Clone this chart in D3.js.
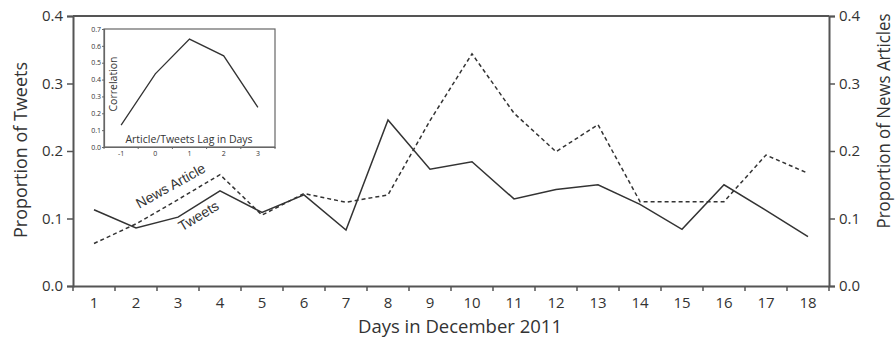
<!DOCTYPE html>
<html>
<head>
<meta charset="utf-8">
<script src="https://cdn.jsdelivr.net/npm/d3@7.9.0/dist/d3.min.js"></script>
<style>
  body { margin: 0; background: #fff; }
  svg text { font-family: "Open Sans", "DejaVu Sans", sans-serif; fill: #333; }
</style>
</head>
<body>
<div id="chart"></div>
<script>
const days = d3.range(1, 19);
const tweets = [0.113, 0.086, 0.102, 0.141, 0.109, 0.135, 0.083, 0.246, 0.173, 0.184,
                0.129, 0.143, 0.150, 0.121, 0.084, 0.150, 0.112, 0.073];
const news = [0.063, 0.092, 0.128, 0.165, 0.105, 0.137, 0.124, 0.135, 0.245, 0.344,
              0.256, 0.199, 0.239, 0.125, 0.125, 0.125, 0.194, 0.167];
const yTicks = [0, 0.1, 0.2, 0.3, 0.4];

const lags = [-1, 0, 1, 2, 3];
const correlation = [0.13, 0.434, 0.64, 0.541, 0.235];
const corrTicks = [0, 0.1, 0.2, 0.3, 0.4, 0.5, 0.6, 0.7];

const width = 896;
const height = 339;
const margin = { top: 16, right: 67, bottom: 53, left: 73 };
const axisColor = "#555";
const lineColor = "#333";

const svg = d3.select("#chart")
  .append("svg")
  .attr("width", width)
  .attr("height", height);

const x = d3.scaleBand()
  .domain(days)
  .range([margin.left, width - margin.right])
  .padding(0);

const y = d3.scaleLinear()
  .domain([0, 0.4])
  .range([height - margin.bottom, margin.top]);

const fmt = d3.format(".1f");

// left axis
const yLeft = svg.append("g")
  .attr("transform", `translate(${margin.left},0)`)
  .call(d3.axisLeft(y).tickValues(yTicks).tickFormat(fmt).tickSize(6).tickPadding(4));

// right axis
const yRight = svg.append("g")
  .attr("transform", `translate(${width - margin.right},0)`)
  .call(d3.axisRight(y).tickValues(yTicks).tickFormat(fmt).tickSize(6).tickPadding(4));

// bottom axis: labels at band centres, ticks at band edges
const xAxis = svg.append("g")
  .attr("transform", `translate(0,${y(0)})`)
  .call(d3.axisBottom(x).tickSize(0).tickPadding(11));

xAxis.selectAll(".edge")
  .data(days.map(d => x(d)).concat([x(days[days.length - 1]) + x.bandwidth()]))
  .join("line")
  .attr("class", "edge")
  .attr("x1", d => d).attr("x2", d => d)
  .attr("y1", 0).attr("y2", 5)
  .attr("stroke", axisColor)
  .attr("stroke-width", 1.5);

[yLeft, yRight, xAxis].forEach(g => {
  g.selectAll(".domain").attr("stroke", axisColor).attr("stroke-width", 2);
  g.selectAll(".tick line").attr("stroke", axisColor).attr("stroke-width", 1.5);
  g.selectAll("text").attr("font-size", 15).attr("fill", "#333")
    .style("font-family", "'Open Sans', sans-serif");
});

// top frame line
svg.append("line")
  .attr("x1", margin.left).attr("x2", width - margin.right)
  .attr("y1", y(0.4)).attr("y2", y(0.4))
  .attr("stroke", axisColor)
  .attr("stroke-width", 2);

// series
const line = d3.line()
  .x((d, i) => x(days[i]) + x.bandwidth() / 2)
  .y(d => y(d));

svg.append("path")
  .datum(news)
  .attr("d", line)
  .attr("fill", "none")
  .attr("stroke", lineColor)
  .attr("stroke-width", 1.5)
  .attr("stroke-dasharray", "4,3");

svg.append("path")
  .datum(tweets)
  .attr("d", line)
  .attr("fill", "none")
  .attr("stroke", lineColor)
  .attr("stroke-width", 1.5);

// axis titles (narrow Myriad-like lettering, so squeeze to the measured length)
svg.append("text")
  .attr("transform", "translate(27,150) rotate(-90)")
  .attr("text-anchor", "middle")
  .attr("font-size", 19)
  .attr("textLength", 176)
  .attr("lengthAdjust", "spacingAndGlyphs")
  .text("Proportion of Tweets");

svg.append("text")
  .attr("transform", "translate(890,121) rotate(-90)")
  .attr("text-anchor", "middle")
  .attr("font-size", 18)
  .attr("textLength", 215)
  .attr("lengthAdjust", "spacingAndGlyphs")
  .text("Proportion of News Articles");

svg.append("text")
  .attr("x", 460)
  .attr("y", 333)
  .attr("text-anchor", "middle")
  .attr("font-size", 18)
  .attr("textLength", 204)
  .attr("lengthAdjust", "spacingAndGlyphs")
  .text("Days in December 2011");

// line labels
svg.append("text")
  .attr("transform", "translate(173,190) rotate(-29)")
  .attr("text-anchor", "middle")
  .attr("font-size", 14)
  .style("font-family", "'Liberation Sans', Arial, sans-serif")
  .text("News Article");

svg.append("text")
  .attr("transform", "translate(201,220) rotate(-31)")
  .attr("text-anchor", "middle")
  .attr("font-size", 14)
  .style("font-family", "'Liberation Sans', Arial, sans-serif")
  .text("Tweets");

// inset chart
const inset = { left: 104, right: 275, top: 29, bottom: 147 };

const xi = d3.scaleBand()
  .domain(lags)
  .range([inset.left, inset.right])
  .padding(0);

const yi = d3.scaleLinear()
  .domain([0, 0.7])
  .range([inset.bottom, inset.top]);

svg.append("rect")
  .attr("x", inset.left).attr("y", inset.top)
  .attr("width", inset.right - inset.left)
  .attr("height", inset.bottom - inset.top)
  .attr("fill", "#fff")
  .attr("stroke", "#666")
  .attr("stroke-width", 1.2);

const yiAxis = svg.append("g")
  .attr("transform", `translate(${inset.left},0)`)
  .call(d3.axisLeft(yi).tickValues(corrTicks).tickFormat(fmt).tickSize(2).tickPadding(1));

const xiAxis = svg.append("g")
  .attr("transform", `translate(0,${inset.bottom})`)
  .call(d3.axisBottom(xi).tickSize(0).tickPadding(4));

xiAxis.selectAll(".edge")
  .data(lags.map(d => xi(d)).concat([xi(lags[lags.length - 1]) + xi.bandwidth()]))
  .join("line")
  .attr("class", "edge")
  .attr("x1", d => d).attr("x2", d => d)
  .attr("y1", 0).attr("y2", 2)
  .attr("stroke", "#666");

[yiAxis, xiAxis].forEach(g => {
  g.selectAll(".domain").attr("stroke", "#666").attr("stroke-width", 1.2);
  g.selectAll(".tick line").attr("stroke", "#666");
  g.selectAll("text").attr("font-size", 7).attr("fill", "#444")
    .style("font-family", "'Open Sans', sans-serif");
});

const corrLine = d3.line()
  .x((d, i) => xi(lags[i]) + xi.bandwidth() / 2)
  .y(d => yi(d));

svg.append("path")
  .datum(correlation)
  .attr("d", corrLine)
  .attr("fill", "none")
  .attr("stroke", lineColor)
  .attr("stroke-width", 1.3);

svg.append("text")
  .attr("transform", `translate(117,84) rotate(-90)`)
  .attr("text-anchor", "middle")
  .attr("font-size", 10.5)
  .text("Correlation");

svg.append("text")
  .attr("x", 189)
  .attr("y", 143)
  .attr("text-anchor", "middle")
  .attr("font-size", 10.5)
  .text("Article/Tweets Lag in Days");
</script>
</body>
</html>
